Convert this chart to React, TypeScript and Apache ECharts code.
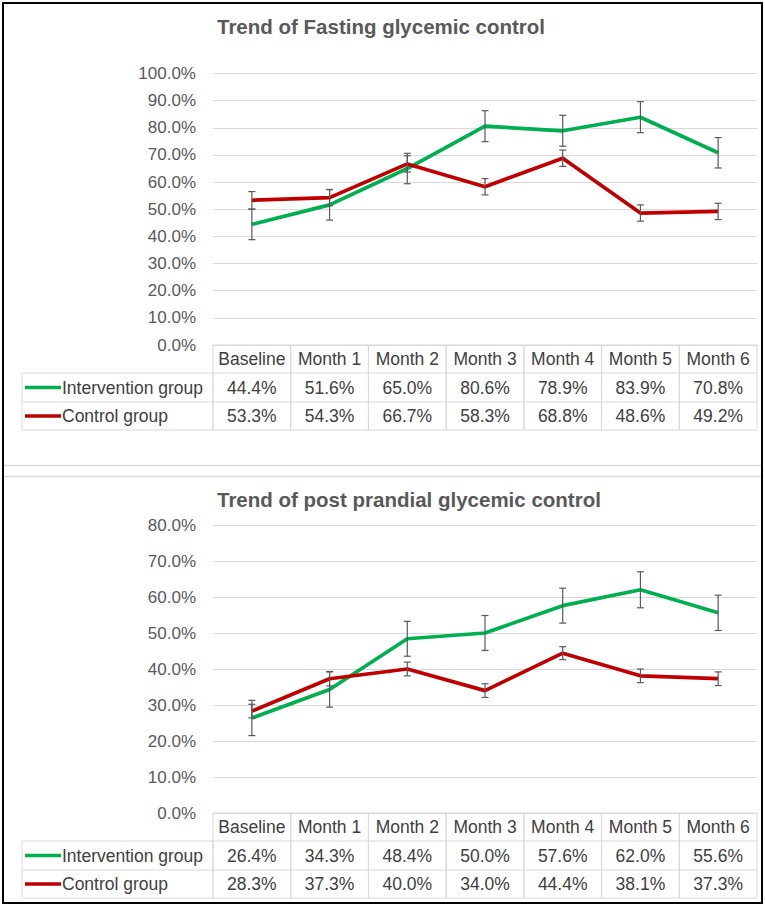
import React, { useEffect, useRef } from "react";
import * as echarts from "echarts";

const categories = ["Baseline", "Month 1", "Month 2", "Month 3", "Month 4", "Month 5", "Month 6"];

const fastingIntervention = [44.4, 51.6, 65.0, 80.6, 78.9, 83.9, 70.8];
const fastingControl = [53.3, 54.3, 66.7, 58.3, 68.8, 48.6, 49.2];
const fastingInterventionErr = [5.6, 5.6, 5.6, 5.7, 5.7, 5.7, 5.6];
const fastingControlErr = [3.2, 3.0, 3.0, 3.0, 3.0, 3.0, 3.0];

const ppIntervention = [26.4, 34.3, 48.4, 50.0, 57.6, 62.0, 55.6];
const ppControl = [28.3, 37.3, 40.0, 34.0, 44.4, 38.1, 37.3];
const ppInterventionErr = [4.9, 4.9, 4.85, 4.85, 4.85, 5.0, 4.9];
const ppControlErr = [1.9, 2.0, 1.9, 1.9, 1.8, 1.9, 1.9];

const seriesNames = ["Intervention group", "Control group"];
const titles = ["Trend of Fasting glycemic control", "Trend of post prandial glycemic control"];
const yMax = [100, 80];
const yInterval = 10;

const GREEN = "#00B050";
const RED = "#C00000";
const GRID = "#D9D9D9";
const AXIS_TEXT = "#595959";
const TABLE_TEXT = "#404040";
const FONT = "'Liberation Sans', Arial, sans-serif";

const fmt = (v: number) => v.toFixed(1) + "%";

function makeTable(inter: number[], ctrl: number[]) {
  return (params: any, api: any) => {
    const i = api.value(0);
    const p = api.coord([i, 0]);
    const w = api.size([1, 0])[0];
    const x0 = p[0] - w / 2;
    const y0 = p[1];
    const H = 28;
    const R1 = 29;
    const R2 = 28;
    const textStyle = (text: string, x: number, y: number, align: string) => ({
      text,
      x,
      y,
      align,
      textAlign: align,
      verticalAlign: "middle",
      textVerticalAlign: "middle",
      fontSize: 17.5,
      fontFamily: FONT,
      fill: TABLE_TEXT,
    });
    const children: any[] = [
      {
        type: "rect",
        shape: { x: x0, y: y0, width: w, height: H + R1 + R2 },
        style: { fill: "none", stroke: GRID, lineWidth: 1 },
      },
      {
        type: "line",
        shape: { x1: x0, y1: y0 + H, x2: x0 + w, y2: y0 + H },
        style: { stroke: GRID, lineWidth: 1 },
      },
      {
        type: "line",
        shape: { x1: x0, y1: y0 + H + R1, x2: x0 + w, y2: y0 + H + R1 },
        style: { stroke: GRID, lineWidth: 1 },
      },
      { type: "text", style: textStyle(fmt(inter[i]), p[0], y0 + H + R1 / 2, "center") },
      { type: "text", style: textStyle(fmt(ctrl[i]), p[0], y0 + H + R1 + R2 / 2, "center") },
    ];
    if (i === 0) {
      const lx = 22;
      children.push(
        {
          type: "rect",
          shape: { x: lx, y: y0 + H, width: x0 - lx, height: R1 + R2 },
          style: { fill: "none", stroke: GRID, lineWidth: 1 },
        },
        {
          type: "line",
          shape: { x1: lx, y1: y0 + H + R1, x2: x0, y2: y0 + H + R1 },
          style: { stroke: GRID, lineWidth: 1 },
        },
        {
          type: "line",
          shape: { x1: lx + 3, y1: y0 + H + R1 / 2, x2: lx + 39, y2: y0 + H + R1 / 2 },
          style: { stroke: GREEN, lineWidth: 3.5 },
        },
        {
          type: "line",
          shape: { x1: lx + 3, y1: y0 + H + R1 + R2 / 2, x2: lx + 39, y2: y0 + H + R1 + R2 / 2 },
          style: { stroke: RED, lineWidth: 3.5 },
        },
        { type: "text", style: textStyle(seriesNames[0], lx + 40, y0 + H + R1 / 2, "left") },
        { type: "text", style: textStyle(seriesNames[1], lx + 40, y0 + H + R1 + R2 / 2, "left") }
      );
    }
    return { type: "group", children };
  };
}

function errorBars(params: any, api: any) {
  const i = api.value(0);
  const v = api.value(1);
  const e = api.value(2);
  const t = api.coord([i, v + e]);
  const b = api.coord([i, v - e]);
  const c = 3.5;
  const st = { stroke: "#595959", lineWidth: 1.2 };
  return {
    type: "group",
    children: [
      { type: "line", shape: { x1: t[0], y1: t[1], x2: b[0], y2: b[1] }, style: st },
      { type: "line", shape: { x1: t[0] - c, y1: t[1], x2: t[0] + c, y2: t[1] }, style: st },
      { type: "line", shape: { x1: b[0] - c, y1: b[1], x2: b[0] + c, y2: b[1] }, style: st },
    ],
  };
}

export default function App() {
  const ref = useRef<HTMLDivElement>(null);
  useEffect(() => {
    if (!ref.current) return;
    const chart = echarts.init(ref.current, undefined, { renderer: "svg" });
    const grids = [
      { left: 213, top: 73.5, width: 544, height: 271.5 },
      { left: 213, top: 525, width: 544, height: 288 },
    ];
    const xAxes = [0, 1].map((g) => ({
      type: "category",
      gridIndex: g,
      data: categories,
      boundaryGap: true,
      axisLine: { show: true, lineStyle: { color: GRID, width: 1 } },
      axisTick: { show: false },
      splitLine: { show: false },
      axisLabel: {
        color: TABLE_TEXT,
        fontSize: 17.5,
        fontFamily: FONT,
        margin: 14,
        verticalAlign: "middle",
        interval: 0,
      },
    }));
    const yAxes = [0, 1].map((g) => ({
      type: "value",
      gridIndex: g,
      min: 0,
      max: yMax[g],
      interval: yInterval,
      axisLine: { show: false },
      axisTick: { show: false },
      splitLine: { show: true, lineStyle: { color: GRID, width: 1 } },
      axisLabel: {
        color: AXIS_TEXT,
        fontSize: 17,
        fontFamily: FONT,
        margin: 17,
        formatter: (v: number) => v.toFixed(1) + "%",
      },
    }));
    const sets = [
      [fastingIntervention, fastingControl, fastingInterventionErr, fastingControlErr],
      [ppIntervention, ppControl, ppInterventionErr, ppControlErr],
    ];
    const series: any[] = [];
    sets.forEach(([inter, ctrl, ie, ce], g) => {
      series.push(
        {
          type: "custom",
          name: "table" + g,
          xAxisIndex: g,
          yAxisIndex: g,
          renderItem: makeTable(inter, ctrl),
          data: categories.map((_, i) => [i, 0]),
          encode: { x: 0, y: 1 },
          clip: false,
          silent: true,
          z: 1,
        },
        {
          type: "line",
          name: seriesNames[0],
          xAxisIndex: g,
          yAxisIndex: g,
          data: inter,
          symbol: "none",
          showSymbol: false,
          lineStyle: { color: GREEN, width: 3.7 },
          itemStyle: { color: GREEN },
          z: 3,
        },
        {
          type: "line",
          name: seriesNames[1],
          xAxisIndex: g,
          yAxisIndex: g,
          data: ctrl,
          symbol: "none",
          showSymbol: false,
          lineStyle: { color: RED, width: 3.7 },
          itemStyle: { color: RED },
          z: 3,
        },
        {
          type: "custom",
          name: "err-int" + g,
          xAxisIndex: g,
          yAxisIndex: g,
          renderItem: errorBars,
          data: inter.map((v, i) => [i, v, ie[i]]),
          encode: { x: 0, y: 1 },
          clip: false,
          z: 4,
        },
        {
          type: "custom",
          name: "err-ctrl" + g,
          xAxisIndex: g,
          yAxisIndex: g,
          renderItem: errorBars,
          data: ctrl.map((v, i) => [i, v, ce[i]]),
          encode: { x: 0, y: 1 },
          clip: false,
          z: 4,
        }
      );
    });
    chart.setOption({
      animation: false,
      backgroundColor: "#ffffff",
      title: [
        {
          text: titles[0],
          left: 217,
          top: 16,
          padding: 0,
          textStyle: { color: AXIS_TEXT, fontSize: 20.5, fontWeight: "bold", fontFamily: FONT },
        },
        {
          text: titles[1],
          left: 217,
          top: 489,
          padding: 0,
          textStyle: { color: AXIS_TEXT, fontSize: 20.5, fontWeight: "bold", fontFamily: FONT },
        },
      ],
      grid: grids,
      xAxis: xAxes,
      yAxis: yAxes,
      series,
      graphic: [
        {
          type: "line",
          shape: { x1: 4, y1: 465.5, x2: 761, y2: 465.5 },
          style: { stroke: GRID, lineWidth: 1.5 },
        },
        {
          type: "line",
          shape: { x1: 4, y1: 476.5, x2: 761, y2: 476.5 },
          style: { stroke: GRID, lineWidth: 1.5 },
        },
        {
          type: "rect",
          shape: { x: 3, y: 3, width: 759, height: 900 },
          style: { fill: "none", stroke: "#000000", lineWidth: 2 },
          z: 100,
        },
      ],
    });
    return () => chart.dispose();
  }, []);
  return (
    <div
      ref={ref}
      style={{ position: "absolute", left: 0, top: 0, width: 765, height: 907 }}
    />
  );
}
